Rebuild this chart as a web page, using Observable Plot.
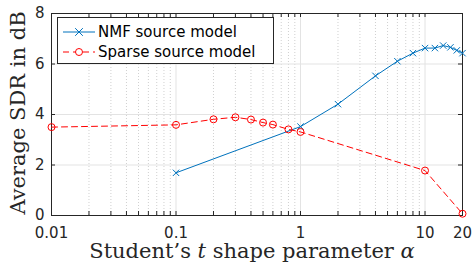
<!DOCTYPE html>
<html>
<head>
<meta charset="utf-8">
<script src="https://cdn.jsdelivr.net/npm/d3@7"></script>
<script src="https://cdn.jsdelivr.net/npm/@observablehq/plot@0.6"></script>
<style>
  html, body { margin: 0; padding: 0; background: #fff; }
  #chart { width: 472px; height: 265px; }
</style>
</head>
<body>
<div id="chart"></div>
<script>
// Data
const nmfAlpha = [0.1, 1, 2, 4, 6, 8, 10, 12, 14, 16, 18, 20];
const nmfSDR   = [1.69, 3.52, 4.41, 5.53, 6.11, 6.43, 6.63, 6.63, 6.73, 6.66, 6.54, 6.43];
const sparseAlpha = [0.01, 0.1, 0.2, 0.3, 0.4, 0.5, 0.6, 0.8, 1, 10, 20];
const sparseSDR   = [3.5, 3.59, 3.81, 3.89, 3.8, 3.68, 3.6, 3.41, 3.31, 1.78, 0.07];
const xTickValues = [0.01, 0.1, 1, 10, 20];
const xTickLabels = ["0.01", "0.1", "1", "10", "20"];
const yTickValues = [0, 2, 4, 6, 8];
const majorX = [0.1, 1, 10];
const minorX = [0.02,0.03,0.04,0.05,0.06,0.07,0.08,0.09,0.2,0.3,0.4,0.5,0.6,0.7,0.8,0.9,2,3,4,5,6,7,8,9];
const allXTicks = [0.01,0.02,0.03,0.04,0.05,0.06,0.07,0.08,0.09,0.1,0.2,0.3,0.4,0.5,0.6,0.7,0.8,0.9,1,2,3,4,5,6,7,8,9,10,20];
const series = ["NMF source model", "Sparse source model"];

const nmf = nmfAlpha.map((a, i) => ({alpha: a, sdr: nmfSDR[i]}));
const sparse = sparseAlpha.map((a, i) => ({alpha: a, sdr: sparseSDR[i]}));
const xLabelData = xTickValues.map((v, i) => ({v, label: xTickLabels[i]}));

const blue = "#0072BD";
const red = "#FF0000";
const axisColor = "#262626";
const sans = "DejaVu Sans";
const serif = "DejaVu Serif";
const innerH = 265 - 13 - 50;
const innerW = 472 - 51 - 10;
const tickLen = 4;

const plot = Plot.plot({
  width: 472,
  height: 265,
  marginLeft: 51,
  marginRight: 10,
  marginTop: 13,
  marginBottom: 50,
  style: {background: "#fff", fontFamily: sans, fontSize: "15px", color: axisColor},
  x: {type: "log", domain: [0.01, 20], axis: null},
  y: {domain: [0, 8], axis: null},
  marks: [
    Plot.gridX(minorX, {stroke: "#c4c4c4", strokeOpacity: 0.8, strokeDasharray: "1,2"}),
    Plot.gridX(majorX, {stroke: "#e3e3e3", strokeOpacity: 1}),
    Plot.gridY([2, 4, 6], {stroke: "#e3e3e3", strokeOpacity: 1}),
    Plot.text(xLabelData, {x: "v", text: "label", frameAnchor: "bottom", dy: 18, fontSize: 15, fill: axisColor, lineAnchor: "middle"}),
    Plot.text(yTickValues, {y: (d) => d, text: (d) => String(d), frameAnchor: "left", dx: -7, textAnchor: "end", fontSize: 15, fill: axisColor}),
    Plot.ruleX(allXTicks, {stroke: axisColor, insetBottom: innerH - tickLen}),
    Plot.ruleX(allXTicks, {stroke: axisColor, insetTop: innerH - tickLen}),
    Plot.ruleY(yTickValues, {stroke: axisColor, insetRight: innerW - tickLen}),
    Plot.ruleY(yTickValues, {stroke: axisColor, insetLeft: innerW - tickLen}),
    Plot.frame({stroke: axisColor, strokeWidth: 1}),
    Plot.line(nmf, {x: "alpha", y: "sdr", stroke: blue, strokeWidth: 1}),
    Plot.dot(nmf, {x: "alpha", y: "sdr", symbol: "times", stroke: blue, r: 3, strokeWidth: 1}),
    Plot.line(sparse, {x: "alpha", y: "sdr", stroke: red, strokeWidth: 1, strokeDasharray: "6,4"}),
    Plot.dot(sparse, {x: "alpha", y: "sdr", symbol: "circle", stroke: red, fill: "none", r: 3.5, strokeWidth: 1})
  ]
});

document.getElementById("chart").appendChild(plot);

const svg = d3.select(plot);

// Axis titles
const xt = svg.append("text")
  .attr("x", 252).attr("y", 257.5)
  .attr("text-anchor", "middle")
  .attr("font-family", serif).attr("font-size", 21).attr("fill", axisColor);
xt.append("tspan").text("Student\u2019s ");
xt.append("tspan").attr("font-style", "italic").text("t");
xt.append("tspan").text(" shape parameter ");
xt.append("tspan").attr("font-style", "italic").text("\u03b1");

svg.append("text")
  .attr("transform", "translate(24.5,113) rotate(-90)")
  .attr("text-anchor", "middle")
  .attr("font-family", serif).attr("font-size", 21).attr("fill", axisColor)
  .text("Average SDR in dB");

// Legend
const lg = svg.append("g");
lg.append("rect").attr("x", 57.5).attr("y", 17.5).attr("width", 216).attr("height", 46)
  .attr("fill", "#fff").attr("stroke", axisColor).attr("stroke-width", 1);
const rows = [
  {label: series[0], color: blue, dash: null, sym: "x", y: 32},
  {label: series[1], color: red, dash: "6,4", sym: "o", y: 52}
];
rows.forEach(r => {
  const ln = lg.append("line").attr("x1", 63).attr("x2", 95).attr("y1", r.y).attr("y2", r.y)
    .attr("stroke", r.color).attr("stroke-width", 1);
  if (r.dash) ln.attr("stroke-dasharray", r.dash);
  if (r.sym === "x") {
    lg.append("path").attr("d", d3.symbol(d3.symbolTimes, 40)()).attr("transform", `translate(79,${r.y})`)
      .attr("stroke", r.color).attr("fill", "none");
  } else {
    lg.append("circle").attr("cx", 79).attr("cy", r.y).attr("r", 3.5)
      .attr("stroke", r.color).attr("fill", "#fff");
  }
  lg.append("text").attr("x", 98).attr("y", r.y).attr("dy", "0.35em")
    .attr("text-anchor", "start")
    .attr("font-family", sans).attr("font-size", 15).attr("fill", "#000").text(r.label);
});
</script>
</body>
</html>
